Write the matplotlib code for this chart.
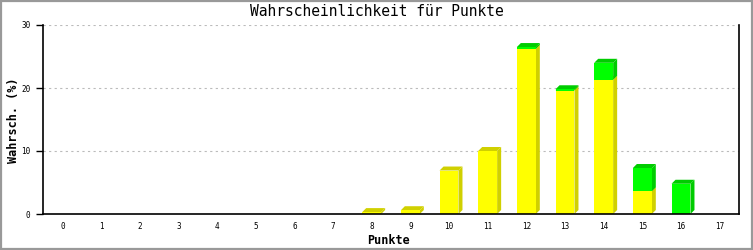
import matplotlib
matplotlib.use("Agg")
import matplotlib.pyplot as plt
from matplotlib.patches import Rectangle

# daten
punkte = list(range(18))
gelb = [0, 0, 0, 0, 0, 0, 0, 0, 0.3, 0.6, 6.9, 10.0, 26.2, 19.6, 21.3, 3.6, 0, 0]
gruen = [0, 0, 0, 0, 0, 0, 0, 0, 0, 0, 0, 0, 0.3, 0.2, 2.7, 3.7, 4.8, 0]
y_ticks = [0, 10, 20, 30]

titel = "Wahrscheinlichkeit für Punkte"
x_titel = "Punkte"
y_titel = "Wahrsch. (%)"

mono = "DejaVu Sans Mono"
breite = 0.49

fig = plt.figure(figsize=(7.53, 2.5), dpi=100)
ax = fig.add_axes([43 / 753, 36 / 250, (739 - 43) / 753, (214 - 25) / 250])
ax.set_xlim(-0.5, 17.5)
ax.set_ylim(0, 30)

# 4 px Tiefe in Datenkoordinaten umrechnen
inv = ax.transData.inverted()
x0, y0 = inv.transform((0, 0))
x1, y1 = inv.transform((4, 4))
dx, dy = x1 - x0, y1 - y0


def quader(x, unten, oben, farbe_dunkel):
    if oben - unten <= 0:
        return
    l, r = x - breite / 2, x + breite / 2
    # Seite
    ax.fill([r, r + dx, r + dx, r], [unten, unten + dy, oben + dy, oben],
            color=farbe_dunkel, lw=0, zorder=2)
    # Deckel
    ax.fill([l, r, r + dx, l + dx], [oben, oben, oben + dy, oben + dy],
            color=farbe_dunkel, lw=0, zorder=2)


for x, g, gr in zip(punkte, gelb, gruen):
    quader(x, 0, g, "#d0d000")
    quader(x, g, g + gr, "#00cc00")

# Frontflaechen
ax.bar(punkte, gelb, width=breite, color="#ffff00", zorder=3)
ax.bar(punkte, gruen, width=breite, bottom=gelb, color="#00ff00", zorder=3)

ax.set_xticks(punkte)
ax.set_yticks(y_ticks)
ax.tick_params(axis="x", length=0, pad=6, labelsize=5.5)
ax.tick_params(axis="y", length=5, width=1, pad=4, labelsize=5.5)
for lab in ax.get_xticklabels() + ax.get_yticklabels():
    lab.set_family(mono)

for v in y_ticks[1:]:
    ax.axhline(v, color="#bbbbbb", lw=0.8, ls=(0, (2, 3)), zorder=1)

ax.spines["top"].set_visible(False)
for sp in ("left", "bottom", "right"):
    ax.spines[sp].set_linewidth(1.2)
    ax.spines[sp].set_color("black")
    ax.spines[sp].set_zorder(4)

fig.text(0.5, 1 - 12 / 250, titel, ha="center", va="center", family=mono,
         fontsize=10.5)
fig.text(389 / 753, 1 - 240 / 250, x_titel, ha="center", va="center",
         family=mono, fontsize=8.5, fontweight="bold")
fig.text(14 / 753, 1 - 120 / 250, y_titel, ha="center", va="center",
         family=mono, fontsize=8.5, fontweight="bold", rotation=90)

# grauer Rahmen
fig.patches.append(Rectangle((0.001, 0.003), 0.998, 0.994, transform=fig.transFigure,
                             fill=False, edgecolor="#999999", lw=1.6))

fig.savefig("out.png", dpi=100)
